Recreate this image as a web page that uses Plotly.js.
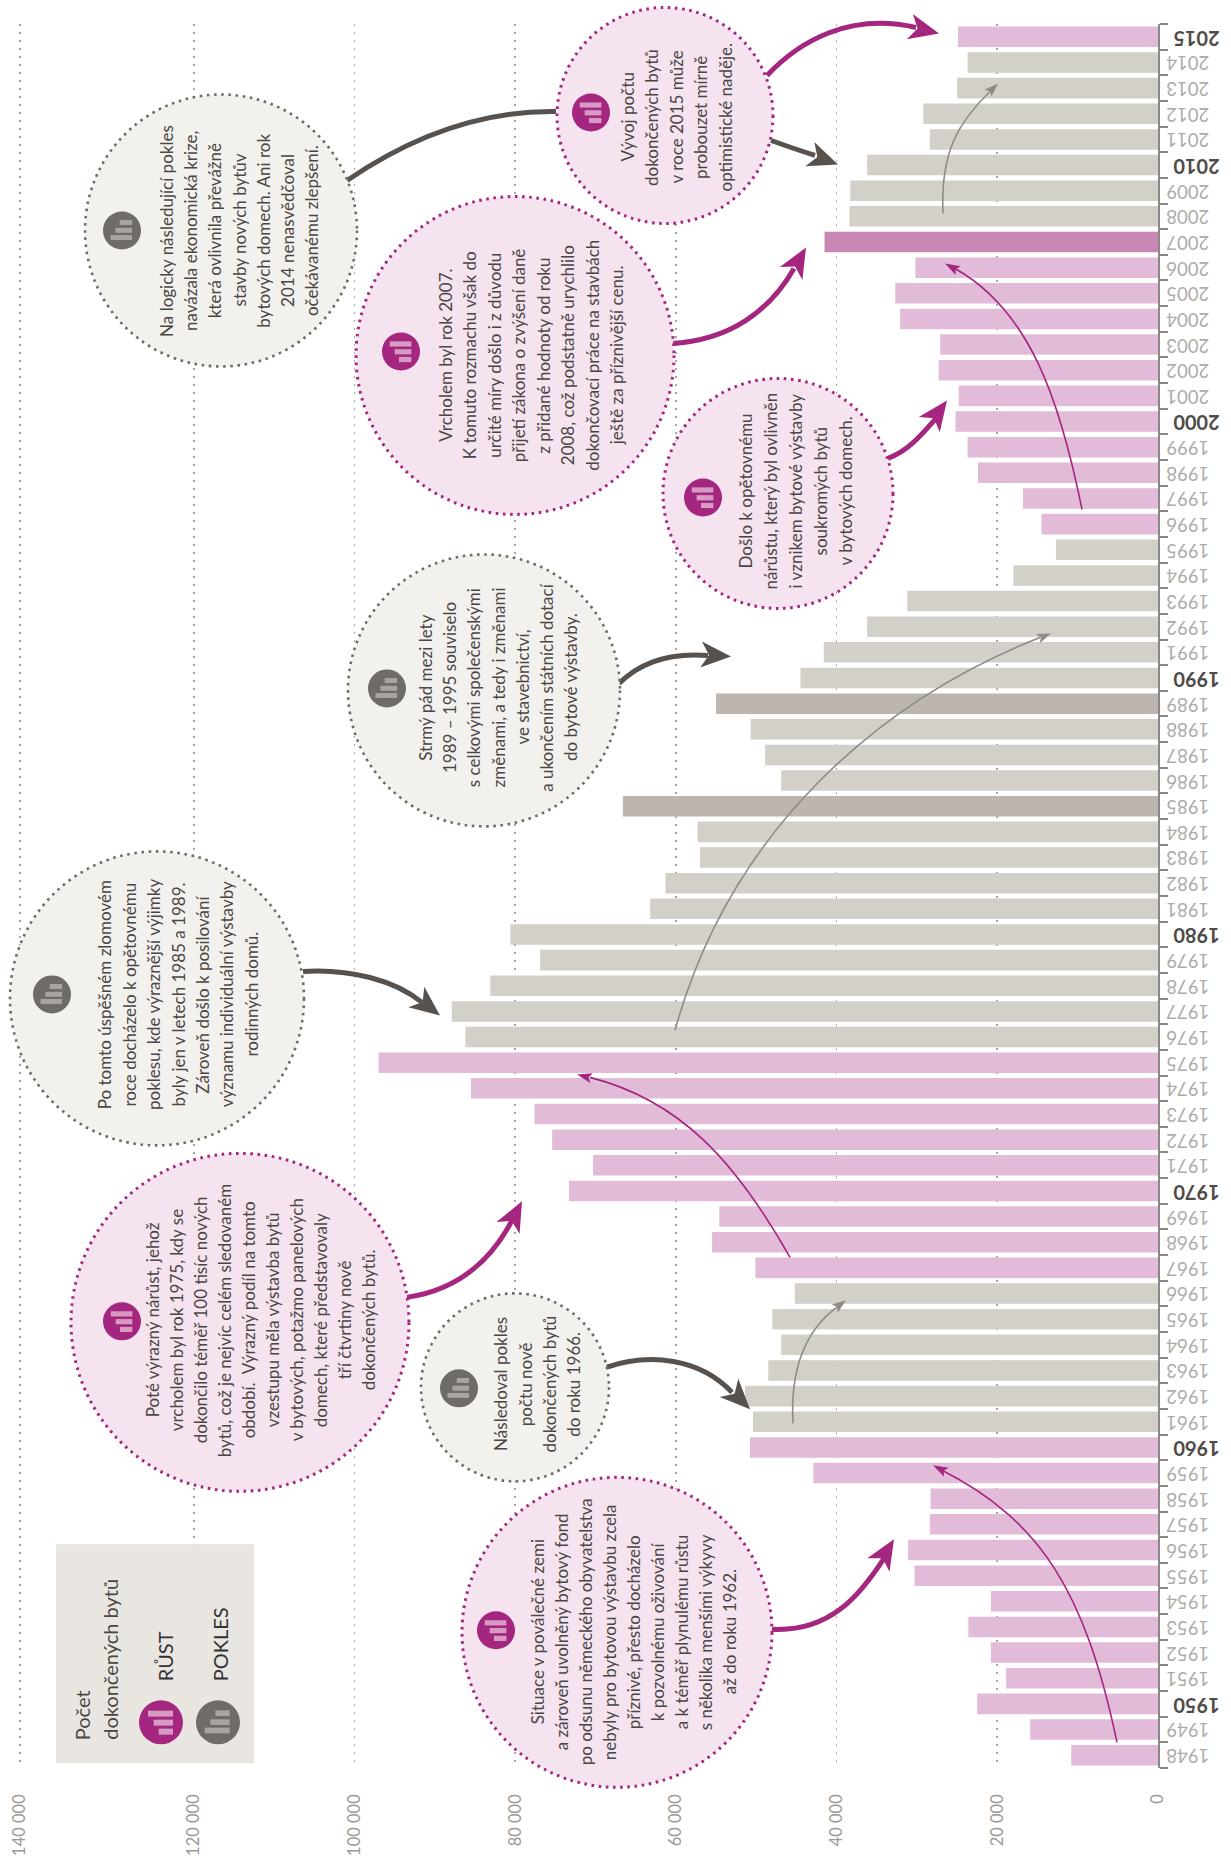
<!DOCTYPE html>
<html>
<head>
<meta charset="utf-8">
<script src="https://cdn.plot.ly/plotly-3.0.1.min.js"></script>
<style>html,body{margin:0;padding:0;background:#fff}</style>
</head>
<body>
<div id="chart" style="width:1231px;height:1856px"></div>
<script>
const years = [1948,1949,1950,1951,1952,1953,1954,1955,1956,1957,1958,1959,1960,1961,1962,1963,1964,1965,1966,1967,1968,1969,1970,1971,1972,1973,1974,1975,1976,1977,1978,1979,1980,1981,1982,1983,1984,1985,1986,1987,1988,1989,1990,1991,1992,1993,1994,1995,1996,1997,1998,1999,2000,2001,2002,2003,2004,2005,2006,2007,2008,2009,2010,2011,2012,2013,2014,2015];
const completedFlats = [10800,15900,22500,18900,20800,23600,20800,30300,31100,28400,28300,42900,50800,50400,51400,48500,46900,48000,45200,50100,55500,54600,73300,70300,75400,77600,85500,97000,86200,87900,83100,76900,80600,63200,61300,57000,57300,66600,46900,48900,50700,55000,44500,41600,36200,31200,18000,12700,14500,16800,22400,23700,25200,24800,27300,27100,32100,32700,30200,41500,38400,38300,36200,28400,29200,25000,23700,24900];
const declineYears = [1961,1962,1963,1964,1965,1966,1976,1977,1978,1979,1980,1981,1982,1983,1984,1985,1986,1987,1988,1989,1990,1991,1992,1993,1994,1995,2008,2009,2010,2011,2012,2013,2014];
const strongDeclineYears = [1985,1989];
const strongGrowthYears = [2007];
const valueTicks = [0,20000,40000,60000,80000,100000,120000,141630];
const valueTickText = ['0','20 000','40 000','60 000','80 000','100 000','120 000','140 000'];

const PINK='#e2bbd8', PINK_STRONG='#c887b4', GREY='#d3cfc9', GREY_STRONG='#bdb6b0';
const PURPLE='#a5267f', DARK='#57524e', TXT='#4a4643';
const barColors = years.map(y => strongGrowthYears.includes(y)?PINK_STRONG : strongDeclineYears.includes(y)?GREY_STRONG : declineYears.includes(y)?GREY : PINK);

const yearText = years.map(y => y%10===0 || y===2015
  ? '<b><span style="font-size:20px;color:#4f4b48">'+y+'</span></b>'
  : '<span style="font-size:18.5px;color:#aeaba8">\u2002\u200a'+y+'</span>');

// pixel frame of the plot area
const PL=0, PR=1158, PT=23.5, PB=1767.7, W=1231, H=1856;
const px = x => (x-PL)/(PR-PL);
const py = y => (PB-y)/(PB-PT);

const shapes=[], annotations=[];

// connector / arrows
function curve(p,color,width){
  shapes.push({type:'path',xref:'paper',yref:'paper',line:{color:color,width:width},
    path:`M${px(p[0])} ${py(p[1])} C${px(p[2])} ${py(p[3])} ${px(p[4])} ${py(p[5])} ${px(p[6])} ${py(p[7])}`});
}
function head(tx,ty,fx,fy,len,hw,notch,color){
  const d=Math.hypot(tx-fx,ty-fy), ux=(tx-fx)/d, uy=(ty-fy)/d, nx=-uy, ny=ux;
  const bx=tx-ux*len, by=ty-uy*len, mx=tx-ux*(len-notch), my=ty-uy*(len-notch);
  const pts=[[tx,ty],[bx+nx*hw,by+ny*hw],[mx,my],[bx-nx*hw,by-ny*hw]];
  shapes.push({type:'path',xref:'paper',yref:'paper',line:{width:0},fillcolor:color,
    path:'M'+pts.map(q=>px(q[0])+' '+py(q[1])).join(' L')+' Z'});
}
function arrow(p,tip,color,width,len,hw,notch){
  curve(p,color,width);
  head(tip[0],tip[1],p[4],p[5],len,hw,notch,color);
}
// thin trend arrows
arrow([1117,1742,1085,1590,1040,1520,942,1470],[933,1465],PURPLE,1.6,15,5,3);
arrow([790,1257,735,1160,680,1100,590,1077],[577,1074],PURPLE,1.6,15,5,3);
arrow([1082,509,1060,400,1030,310,955,268],[945,263],PURPLE,1.6,15,5,3);
arrow([793,1423,790,1370,805,1330,838,1306],[846,1300],'#8f8c88',1.6,14,5,3);
arrow([675,1030,730,830,880,700,1040,637],[1051,633],'#8f8c88',1.6,14,5,3);
arrow([943,213,940,150,960,120,990,91],[998,83],'#8f8c88',1.6,14,5,3);
// thick annotation arrows
arrow([772,1629,830,1632,860,1595,884,1558],[894,1539],PURPLE,5,30,13,8);
arrow([407,1297,455,1290,490,1262,512,1220],[522,1201],PURPLE,5,30,13,8);
arrow([606,1367,650,1352,700,1358,732,1392],[750,1409],DARK,5,30,13,8);
arrow([303,971,350,968,395,980,422,1002],[440,1015],DARK,5,30,13,8);
arrow([619,683,640,662,670,652,708,655],[731,656],DARK,5,30,13,8);
arrow([671,343,730,340,770,310,794,268],[806,247],PURPLE,5,30,13,8);
arrow([888,458,910,450,925,430,936,418],[947,400],PURPLE,5,30,13,8);
arrow([767,75,800,40,850,12,916,27],[939,33],PURPLE,5,30,13,8);
arrow([771,140,785,145,800,150,815,155],[838,164],DARK,5,30,13,8);
curve([347,180,420,130,490,110,556,111],DARK,5);

// bubbles
function bubble(cx,cy,r,kind){
  const pink=kind==='p';
  shapes.push({type:'circle',xref:'paper',yref:'paper',
    x0:px(cx-r),x1:px(cx+r),y0:py(cy+r),y1:py(cy-r),
    fillcolor:pink?'#f5e3f0':'#f3f1ee',
    line:{color:pink?PURPLE:'#6f6b66',width:pink?3:2.6,dash:'2.6px,4.6px'}});
}
function icon(cx,cy,r,kind){
  const pink=kind==='p';
  shapes.push({type:'circle',xref:'paper',yref:'paper',line:{width:0},
    x0:px(cx-r),x1:px(cx+r),y0:py(cy+r),y1:py(cy-r),fillcolor:pink?PURPLE:'#6f6b66'});
  const bars=pink?[[-39,36,-35,-17],[-22,36,-8,10],[-7,36,19,37]]:[[-8,35,-36,-19],[-23,35,-9,8],[-40,35,16,33]];
  bars.forEach(b=>{
    const k=r/66;
    shapes.push({type:'rect',xref:'paper',yref:'paper',line:{width:0},fillcolor:pink?'#d79ac5':'#a8a5a0',
      x0:px(cx+b[0]*k),x1:px(cx+b[1]*k),y0:py(cy+b[3]*k),y1:py(cy+b[2]*k)});
  });
}
function textBlock(cxText,cy,lines,step,size){
  const n=lines.length;
  lines.forEach((t,i)=>{
    annotations.push({xref:'paper',yref:'paper',showarrow:false,textangle:-90,
      x:px(cxText+(i-(n-1)/2)*step),y:py(cy),xanchor:'center',yanchor:'middle',
      text:t,font:{family:'Lato, sans-serif',size:size||17,color:TXT}});
  });
}
const notes=[
 {c:[617,1632,155],k:'p',i:[496,1630],t:[633,1632],step:24,lines:['Situace v poválečné zemi','a zároveň uvolněný bytový fond','po odsunu německého obyvatelstva','nebyly pro bytovou výstavbu zcela','příznivé, přesto docházelo','k pozvolnému oživování','a k téměř plynulému růstu','s několika menšími výkyvy','až do roku 1962.']},
 {c:[515,1387,94],k:'g',i:[459,1388],t:[537,1384],step:24.3,lines:['Následoval pokles','počtu nově','dokončených bytů','do roku 1966.']},
 {c:[240,1322,169],k:'p',i:[122,1321],t:[260,1320],step:24,lines:['Poté výrazný nárůst, jehož','vrcholem byl rok 1975, kdy se','dokončilo téměř 100 tisíc nových','bytů, což je nejvíc celém sledovaném','období.  Výrazný podíl na tomto','vzestupu měla výstavba bytů','v bytových, potažmo panelových','domech, které představovaly','tří čtvrtiny nově','dokončených bytů.']},
 {c:[157,998,147],k:'g',i:[52,994],t:[178,994],step:24.4,lines:['Po tomto úspěšném zlomovém','roce docházelo k opětovnému','poklesu, kde výraznější výjimky','byly jen v letech 1985 a 1989.','Zároveň došlo k posilování','významu individuální výstavby','rodinných domů.']},
 {c:[484,690,136],k:'g',i:[387,688],t:[498,687],step:24.2,lines:['Strmý pád mezi lety','1989 – 1995 souviselo','s celkovými společenskými','změnami, a tedy i změnami','ve stavebnictví,','a ukončením státních dotací','do bytové výstavby.']},
 {c:[515,355,159],k:'p',i:[401,351],t:[531,355],step:24.5,lines:['Vrcholem byl rok 2007.','K tomuto rozmachu však do','určité míry došlo i z důvodu','přijetí zákona o zvýšení daně','z přidané hodnoty od roku','2008, což podstatně urychlilo','dokončovací práce na stavbách','ještě za příznivější cenu.']},
 {c:[221,230,136],k:'g',i:[122,230],t:[239,230],step:24.2,lines:['Na logicky následující pokles','navázala ekonomická krize,','která ovlivnila převážně','stavby nových bytův','bytových domech. Ani rok','2014 nenasvědčoval','očekávanému zlepšení.']},
 {c:[665,115,108],k:'p',i:[591,112],t:[676,117],step:24.5,lines:['Vývoj počtu','dokončených bytů','v roce 2015 může','probouzet mírně','optimistické naděje.']},
 {c:[778,493,115],k:'p',i:[703,497],t:[795,491],step:25,lines:['Došlo k opětovnému','nárůstu, který byl ovlivněn','i vznikem bytové výstavby','soukromých bytů','v bytových domech.']}
];
notes.forEach(n=>{
  bubble(n.c[0],n.c[1],n.c[2],n.k);
  icon(n.i[0],n.i[1],19,n.k);
  textBlock(n.t[0],n.t[1],n.lines,n.step);
});

// legend panel
shapes.push({type:'rect',xref:'paper',yref:'paper',line:{width:0},fillcolor:'#e9e6e2',x0:px(56),x1:px(254),y0:py(1763),y1:py(1544)});
icon(161,1722,22,'p'); icon(218,1722,22,'g');
[['Počet',82,1742,20,TXT],['dokončených bytů',110,1742,20,TXT],['RŮST',165,1683,20,'#333'],['POKLES',220,1683,20,'#333']].forEach(a=>{
  annotations.push({xref:'paper',yref:'paper',showarrow:false,textangle:-90,x:px(a[1]),y:py(a[2]),
    xanchor:'center',yanchor:'bottom',text:a[0],font:{family:'Lato, sans-serif',size:a[3],color:a[4]}});
});

const data=[{type:'bar',orientation:'h',x:completedFlats,y:years.map(String),
  marker:{color:barColors,line:{width:0}},hoverinfo:'x+y'}];

const layout={
  width:W,height:H,paper_bgcolor:'#fff',plot_bgcolor:'#fff',showlegend:false,
  margin:{l:PL,r:W-PR,t:PT,b:H-PB,pad:0},
  bargap:0.2,
  font:{family:'Lato, sans-serif'},
  xaxis:{range:[144120,0],side:'bottom',tickmode:'array',tickvals:valueTicks,ticktext:valueTickText,
    tickangle:-90,tickfont:{size:16.5,color:'#9b9996',family:'Lato, sans-serif'},
    ticks:'',ticklabelstandoff:22,showline:false,zeroline:false,
    showgrid:true,gridcolor:'#a9a6a3',gridwidth:1.6,griddash:'2px,6px'},
  yaxis:{type:'category',categoryorder:'array',categoryarray:years.map(String),side:'right',
    range:[-0.5,67.5],tickmode:'array',tickvals:years.map(String),ticktext:yearText,
    tickson:'boundaries',ticks:'outside',ticklen:8,tickwidth:2,tickcolor:'#8a8785',
    tickangle:180,ticklabelstandoff:56,ticklabelshift:6,
    tickfont:{size:18.5,family:'Lato, sans-serif',color:'#aeaba8'},
    showline:true,linecolor:'#8a8785',linewidth:2,showgrid:false,zeroline:false},
  shapes:shapes,annotations:annotations
};
Plotly.newPlot('chart',data,layout,{displayModeBar:false,staticPlot:true});
</script>
</body>
</html>
